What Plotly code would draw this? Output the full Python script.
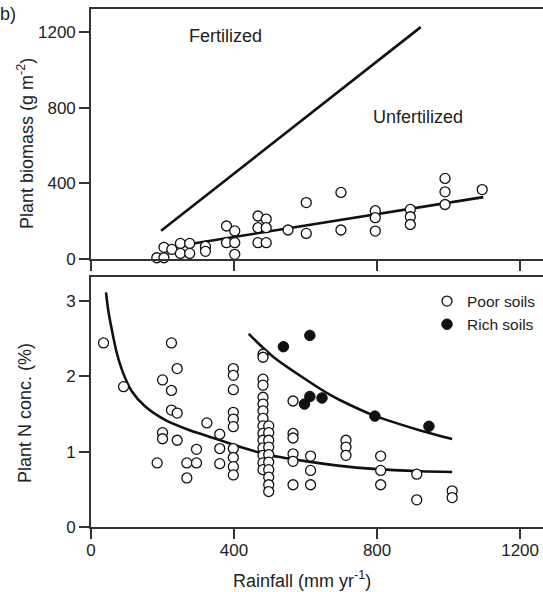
import plotly.graph_objects as go

# ---------------- Top panel: plant biomass vs rainfall ----------------
biomass_rain = [184, 204, 204, 226, 250, 250, 276, 276, 320, 320,
                379, 379, 402, 402, 402, 467, 467, 467, 490, 490, 490,
                551, 602, 602, 699, 699, 795, 795, 795, 893, 893, 893,
                990, 990, 990, 1094]
biomass_g = [5, 5, 60, 49, 81, 28, 81, 28, 65, 39,
             173, 85, 147, 85, 23, 226, 164, 85, 210, 164, 85,
             152, 297, 134, 351, 152, 254, 217, 146, 261, 222, 181,
             425, 354, 287, 366]

fert_line_rain = [196, 922]
fert_line_g = [148, 1226]
unfert_line_rain = [202, 1097]
unfert_line_g = [55, 326]

# ---------------- Bottom panel: plant N concentration vs rainfall ----------------
poor_rain = ([35, 91, 185, 200, 200, 200, 225, 225, 225, 241, 241, 241,
              268, 268, 295, 295, 324, 360, 360, 360]
             + [398] * 10 + [481] * 15 + [497] * 10
             + [565] * 6 + [614] * 3 + [713] * 3 + [810] * 3 + [911] * 2 + [1010] * 2)
poor_n = ([2.44, 1.86, 0.85, 1.95, 1.25, 1.17, 2.44, 1.81, 1.55, 2.10, 1.51, 1.15,
           0.85, 0.65, 1.03, 0.85, 1.38, 1.23, 1.04, 0.84]
          + [2.10, 2.01, 1.82, 1.52, 1.43, 1.33, 1.04, 0.92, 0.80, 0.69]
          + [2.29, 2.25, 1.96, 1.88, 1.72, 1.63, 1.54, 1.44, 1.34, 1.24, 1.15, 1.05, 0.95, 0.85, 0.76]
          + [1.34, 1.25, 1.15, 1.06, 0.96, 0.86, 0.76, 0.66, 0.56, 0.47]
          + [1.67, 1.24, 1.18, 0.97, 0.87, 0.56]
          + [0.94, 0.75, 0.56]
          + [1.15, 1.06, 0.95]
          + [0.94, 0.75, 0.56]
          + [0.70, 0.36]
          + [0.48, 0.39])

rich_rain = [538, 612, 597, 612, 646, 794, 945]
rich_n = [2.39, 2.54, 1.63, 1.73, 1.71, 1.47, 1.335]

poor_curve_rain = [42, 48, 58, 72, 90, 114, 151, 207, 272, 323, 418, 469, 511, 604, 697, 790, 921, 1010]
poor_curve_n = [3.11, 2.88, 2.62, 2.31, 2.04, 1.80, 1.60, 1.42, 1.29, 1.21, 1.06, 0.99, 0.94, 0.87, 0.81, 0.77, 0.74, 0.73]

rich_curve_rain = [441, 511, 604, 669, 697, 790, 921, 1010]
rich_curve_n = [2.56, 2.25, 1.945, 1.75, 1.68, 1.48, 1.28, 1.165]

x_ticks = [0, 400, 800, 1200]
biomass_ticks = [0, 400, 800, 1200]
n_ticks = [0, 1, 2, 3]

FONT = "Liberation Sans, Arial, Helvetica, sans-serif"
TXT = "#222222"
AX = "#333333"
LINE = "#111111"

W, H = 543, 592
ML, MR, MT, MB = 91, 0, 9, 65
PW, PH = W - ML - MR, H - MT - MB


def px_x(p):
    return (p - ML) / PW


def px_y(p):
    return (H - MB - p) / PH


open_marker = dict(symbol="circle", size=10, color="white", line=dict(color="#111111", width=1.3))
filled_marker = dict(symbol="circle", size=10.5, color="#111111", line=dict(color="#111111", width=1))

fig = go.Figure()

# top panel
fig.add_trace(go.Scatter(x=fert_line_rain, y=fert_line_g, mode="lines",
                         line=dict(color=LINE, width=2.6), xaxis="x2", yaxis="y2",
                         showlegend=False, hoverinfo="skip"))
fig.add_trace(go.Scatter(x=unfert_line_rain, y=unfert_line_g, mode="lines",
                         line=dict(color=LINE, width=2.6), xaxis="x2", yaxis="y2",
                         showlegend=False, hoverinfo="skip"))
fig.add_trace(go.Scatter(x=biomass_rain, y=biomass_g, mode="markers", marker=open_marker,
                         xaxis="x2", yaxis="y2", showlegend=False, cliponaxis=False))

# bottom panel
fig.add_trace(go.Scatter(x=poor_curve_rain, y=poor_curve_n, mode="lines",
                         line=dict(color=LINE, width=2.6, shape="spline", smoothing=0.8),
                         showlegend=False, hoverinfo="skip"))
fig.add_trace(go.Scatter(x=rich_curve_rain, y=rich_curve_n, mode="lines",
                         line=dict(color=LINE, width=2.6, shape="spline", smoothing=0.8),
                         showlegend=False, hoverinfo="skip"))
fig.add_trace(go.Scatter(x=poor_rain, y=poor_n, mode="markers", marker=open_marker,
                         name="Poor soils", cliponaxis=False))
fig.add_trace(go.Scatter(x=rich_rain, y=rich_n, mode="markers", marker=filled_marker,
                         name="Rich soils", cliponaxis=False))

axis_common = dict(showline=True, linecolor=AX, linewidth=1.6, ticks="outside", ticklen=10,
                   tickwidth=1.5, tickcolor=AX, showgrid=False, zeroline=False,
                   tickfont=dict(family=FONT, size=17, color=TXT))

top_bottom = px_y(258.7)
bot_top = px_y(277.3)

fig.update_layout(
    width=W, height=H,
    margin=dict(l=ML, r=MR, t=MT, b=MB, pad=0, autoexpand=False),
    paper_bgcolor="white", plot_bgcolor="white",
    font=dict(family=FONT, color=TXT),
    xaxis=dict(axis_common, range=[0, 1264], tickvals=x_ticks, mirror=True,
               anchor="y", domain=[0, 1], ticklabelstandoff=-3),
    yaxis=dict(axis_common, range=[0, 3.31], tickvals=n_ticks, domain=[0, bot_top],
               anchor="x"),
    xaxis2=dict(axis_common, range=[0, 1264], tickvals=x_ticks, mirror=True,
                showticklabels=False, anchor="y2", domain=[0, 1]),
    yaxis2=dict(axis_common, range=[0, 1322], tickvals=biomass_ticks, domain=[top_bottom, 1],
                anchor="x2"),
    showlegend=True,
    legend=dict(x=px_x(427), y=px_y(284.5), xanchor="left", yanchor="top",
                font=dict(family=FONT, size=15.5, color=TXT), bgcolor="rgba(0,0,0,0)",
                itemwidth=30, tracegroupgap=0),
)

annotations = [
    dict(text="Plant biomass (g m<sup>-2</sup>)", x=px_x(25), y=px_y(144), textangle=-90),
    dict(text="Plant N conc. (%)", x=px_x(25), y=px_y(413), textangle=-90),
    dict(text="Rainfall (mm yr<sup>-1</sup>)", x=px_x(302), y=px_y(579)),
    dict(text="b)", x=px_x(8), y=px_y(14)),
]
for a in annotations:
    fig.add_annotation(xref="paper", yref="paper", showarrow=False, xanchor="center",
                       yanchor="middle", font=dict(family=FONT, size=18, color=TXT), **a)

fig.add_annotation(text="Fertilized", x=377, y=1177, xref="x2", yref="y2", showarrow=False,
                   xanchor="center", yanchor="middle", font=dict(family=FONT, size=18, color=TXT))
fig.add_annotation(text="Unfertilized", x=915, y=752, xref="x2", yref="y2", showarrow=False,
                   xanchor="center", yanchor="middle", font=dict(family=FONT, size=18, color=TXT))

fig.write_html("out.html", config={"displayModeBar": False},
               post_script="document.body.style.margin='0';document.body.style.padding='0';"
                           "document.documentElement.style.overflow='hidden';")
